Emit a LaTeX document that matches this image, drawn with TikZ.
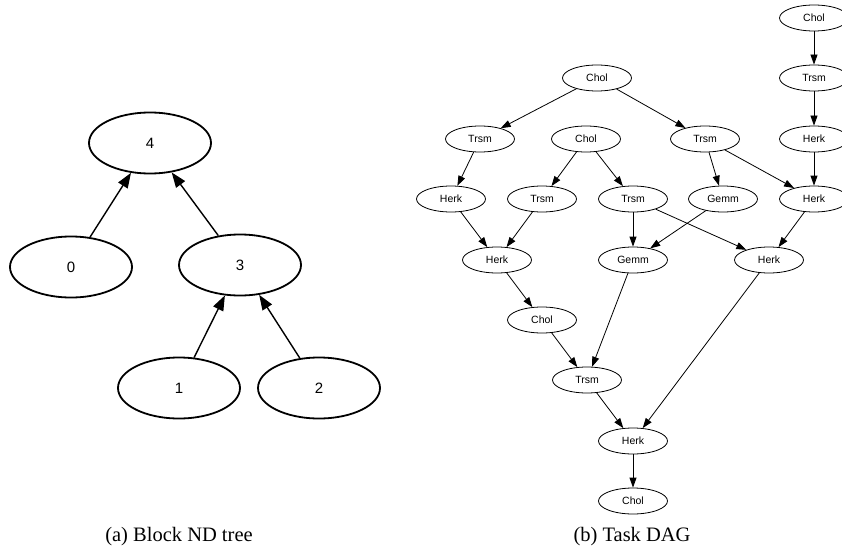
\documentclass[tikz,border=0pt]{standalone}
\usepackage{fontspec}
\setmainfont{Liberation Serif}
\setsansfont{Liberation Sans}
\usetikzlibrary{shapes.geometric,arrows.meta}
\begin{document}
\begin{tikzpicture}[x=1pt,y=-1pt,
  treenode/.style={ellipse,draw,line width=1.8pt,minimum width=122pt,minimum height=61pt,inner sep=0pt,font=\sffamily\fontsize{15}{15}\selectfont},
  treeedge/.style={line width=1.4pt,-{Triangle[length=15pt,width=11pt]}},
  task/.style={ellipse,draw,line width=0.8pt,minimum width=69pt,minimum height=26pt,inner sep=0pt,font=\sffamily\fontsize{10.5}{10.5}\selectfont},
  dep/.style={line width=0.8pt,-{Triangle[length=10pt,width=7pt]}},
  caption/.style={font=\fontsize{20.5}{20.5}\selectfont}]
\useasboundingbox (0,0) rectangle (842,556);
% (a) tree
\node[treenode] (t4) at (150,143) {4};
\node[treenode] (t0) at (71,267) {0};
\node[treenode] (t3) at (240,265) {3};
\node[treenode] (t1) at (179,388) {1};
\node[treenode] (t2) at (319,388) {2};
\draw[treeedge] (t0) -- (t4);
\draw[treeedge] (t3) -- (t4);
\draw[treeedge] (t1) -- (t3);
\draw[treeedge] (t2) -- (t3);
\node[caption] (capa) at (179,537) {(a) Block ND tree};
% (b) DAG
\node[task] (c1) at (597,78) {Chol};
\node[task] (s1) at (480,139) {Trsm};
\node[task] (c2) at (586,139) {Chol};
\node[task] (s2) at (705,139) {Trsm};
\node[task] (cr) at (814,18) {Chol};
\node[task] (sr) at (814,78) {Trsm};
\node[task] (hr) at (814,139) {Herk};
\node[task] (h1) at (451,199) {Herk};
\node[task] (s3) at (542,199) {Trsm};
\node[task] (s4) at (633,199) {Trsm};
\node[task] (g1) at (723,199) {Gemm};
\node[task] (h2) at (814,199) {Herk};
\node[task] (h3) at (497,260) {Herk};
\node[task] (g2) at (633,260) {Gemm};
\node[task] (h4) at (769,260) {Herk};
\node[task] (c3) at (542,320) {Chol};
\node[task] (s5) at (587,380) {Trsm};
\node[task] (h5) at (633,441) {Herk};
\node[task] (c4) at (633,501) {Chol};
\draw[dep] (c1) -- (s1);
\draw[dep] (c1) -- (s2);
\draw[dep] (cr) -- (sr);
\draw[dep] (sr) -- (hr);
\draw[dep] (hr) -- (h2);
\draw[dep] (s1) -- (h1);
\draw[dep] (c2) -- (s3);
\draw[dep] (c2) -- (s4);
\draw[dep] (s2) -- (g1);
\draw[dep] (s2) -- (h2);
\draw[dep] (h1) -- (h3);
\draw[dep] (s3) -- (h3);
\draw[dep] (s4) -- (g2);
\draw[dep] (s4) -- (h4);
\draw[dep] (g1) -- (g2);
\draw[dep] (h2) -- (h4);
\draw[dep] (h3) -- (c3);
\draw[dep] (g2) -- (s5);
\draw[dep] (c3) -- (s5);
\draw[dep] (s5) -- (h5);
\draw[dep] (h4) -- (h5);
\draw[dep] (h5) -- (c4);
\node[caption] (capb) at (632,537) {(b) Task DAG};
\end{tikzpicture}
\end{document}
